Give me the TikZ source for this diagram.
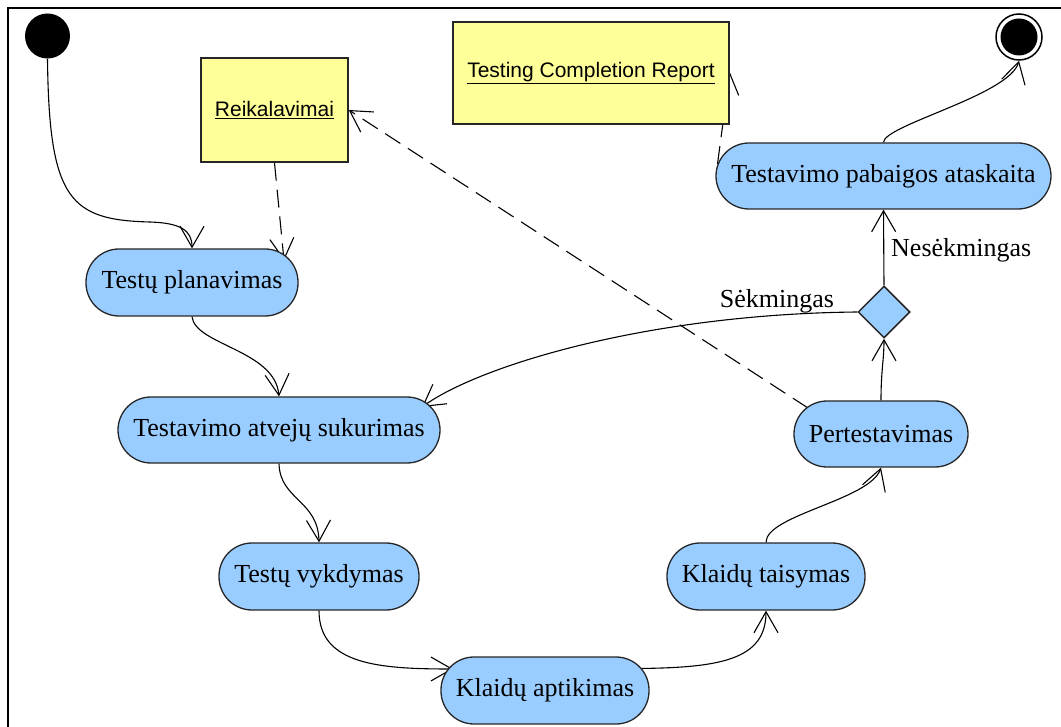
\documentclass[tikz,border=0pt]{standalone}
\usepackage{fontspec}
\setmainfont{Liberation Serif}
\newfontfamily\arialf{Liberation Sans}
\usetikzlibrary{arrows.meta,shapes.geometric,calc,backgrounds}
\definecolor{actblue}{HTML}{99CCFF}
\definecolor{objyellow}{HTML}{FFFF99}
\begin{document}
\begin{tikzpicture}[x=1pt,y=-1pt,
 act/.style={rectangle, rounded corners=33pt, draw=black!85, line width=1.3pt, fill=actblue, minimum height=67pt, inner sep=0pt, font=\fontsize{26}{30}\selectfont},
 obj/.style={rectangle, draw=black!85, line width=1.5pt, fill=objyellow, inner sep=0pt, font=\arialf\fontsize{21}{24}\selectfont},
 flow/.style={line width=1.1pt, -{Straight Barb[length=21pt,width=24pt,line width=1.1pt]}},
 dep/.style={flow, dash pattern=on 18pt off 9pt},
 lbl/.style={font=\fontsize{26}{30}\selectfont, inner sep=0pt, anchor=base}
]
\useasboundingbox (0,0) rectangle (1061,727);
\draw[line width=2.5pt] (8,727) -- (8,8) -- (1061,8);

% nodes
\node[circle, fill=black, minimum size=45pt, inner sep=0pt] (start) at (47.5,36) {};
\node[circle, draw=black, line width=1.5pt, minimum size=46pt, inner sep=0pt,
  path picture={\fill[black] (path picture bounding box.center) circle (18.5pt);}] (final) at (1019,37) {};
\node[obj, minimum width=147pt, minimum height=104pt] (req) at (274.5,110) {\underline{Reikalavimai}};
\node[obj, minimum width=276pt, minimum height=102pt] (rep) at (591,73) {\underline{Testing Completion Report}};
\node[act, minimum width=212pt] (tp) at (192,282.5) {Testų planavimas};
\node[act, minimum width=322pt, minimum height=66pt] (tas) at (279,430) {Testavimo atvejų sukurimas};
\node[act, minimum width=200pt] (tv) at (319,576.5) {Testų vykdymas};
\node[act, minimum width=208pt] (ka) at (545,690.5) {Klaidų aptikimas};
\node[act, minimum width=198pt] (kt) at (766,576.5) {Klaidų taisymas};
\node[act, minimum width=174pt, minimum height=66pt] (pt) at (881,434) {Pertestavimas};
\node[diamond, draw=black!85, line width=1.5pt, fill=actblue, minimum width=52pt, minimum height=52pt, inner sep=0pt] (dec) at (884,312) {};
\node[act, minimum width=335pt, minimum height=66pt] (tpa) at (883.5,176) {Testavimo pabaigos ataskaita};

% connectors
\begin{scope}[on background layer]
\draw[flow] (start.south) .. controls (49,200) and (70,220) .. (150,222) .. controls (180,223) and (192,230) .. (tp.north);
\draw[dep] (req.south) -- ($(tp.center)+(92,-22)$);
\draw[dep] ($(pt.center)+(-73,-26)$) -- (req.east);
\draw[dep] ($(tpa.center)+(-166,-12)$) -- ($(rep.east)+(0,-1)$);
\draw[flow] (tp.south) .. controls (195,345) and (275,350) .. (tas.north);
\draw[flow] (tas.south) .. controls (280,500) and (318,500) .. (tv.north);
\draw[flow] (tv.south) .. controls (319,665) and (380,669) .. ($(ka.center)+(-92,-21.5)$);
\draw[flow] ($(ka.center)+(90,-22)$) .. controls (720,668) and (766,660) .. (kt.south);
\draw[flow] (kt.north) .. controls (766,515) and (870,500) .. (pt.south);
\draw[flow] (pt.north) .. controls (881,370) and (884,360) .. (dec.south);
\draw[flow] (dec.west) .. controls (650,314) and (480,365) .. ($(tas.center)+(143,-23)$);
\draw[flow] (dec.north) -- (tpa.south);
\draw[flow] (tpa.north) .. controls (884,125) and (1010,95) .. (final.south);
\end{scope}

% labels
\node[lbl] (lblsek) at (777,308) {Sėkmingas};
\node[lbl, anchor=base west] (lblnesek) at (891,257) {Nesėkmingas};
\end{tikzpicture}
\end{document}
